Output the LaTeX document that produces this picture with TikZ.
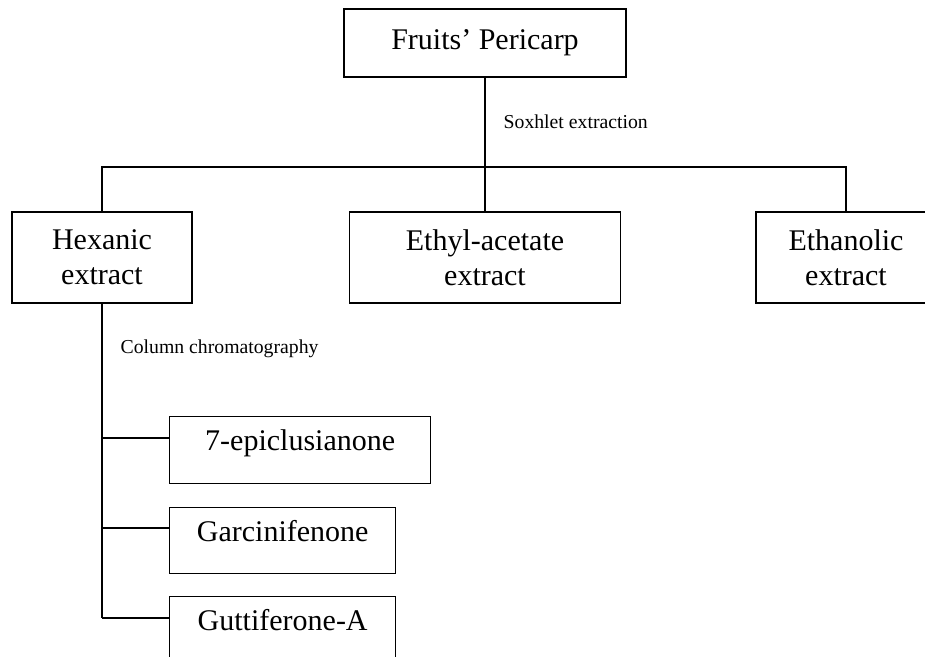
\documentclass[tikz,border=0pt]{standalone}
\usepackage{fontspec}
\setmainfont{Liberation Serif}
\usepackage{tikz}
\usetikzlibrary{calc}

\begin{document}
\begin{tikzpicture}[x=0.75pt,y=-0.75pt,line width=1pt,
        box/.style={rectangle,draw=black,line width=1pt,align=center,inner sep=2pt,
          font=\fontsize{22.5}{26}\selectfont},
        sub/.style={box,anchor=north west,text height=0.7em,text depth=0.6em},
        step label/.style={inner sep=0pt,anchor=base west,font=\fontsize{14.8}{17}\selectfont}]
        \useasboundingbox (0,0) rectangle (925,657);
        \clip (0,0) rectangle (925,657);
        \node[box,minimum width=211.5pt,minimum height=51pt]  (fp) at (485,43) {Fruits' Pericarp};
        \node[box,minimum width=135pt,minimum height=68.25pt]  (hx) at (102,257.5) {Hexanic\\extract};
        \node[box,minimum width=203.25pt,minimum height=68.25pt]  (ea) at (485,257.5) {Ethyl-acetate\\extract};
        \node[box,minimum width=135pt,minimum height=68.25pt]  (et) at (846,257.5) {Ethanolic\\extract};
        \node[sub,minimum width=195.75pt,minimum height=50.25pt]  (s1) at (169,416) {7-epiclusianone};
        \node[sub,minimum width=169.5pt,minimum height=49.5pt]  (s2) at (169,507) {Garcinifenone};
        \node[sub,minimum width=169.5pt,minimum height=50.25pt]  (s3) at (169,596) {Guttiferone-A};
        \node[step label] (sx) at (503,128) {Soxhlet extraction};
        \node[step label] (cc) at (120,353) {Column chromatography};
        \coordinate (split) at (fp.south |- 0,167);
        \coordinate (b1) at (hx.south |- 0,438);
        \coordinate (b2) at (hx.south |- 0,528);
        \coordinate (b3) at (hx.south |- 0,618);
        \draw (fp.south) -- (split);
        \draw (hx.north) |- (split) -| (et.north);
        \draw (split) -- (ea.north);
        \draw (hx.south) -- (b3);
        \draw (b1) -- (b1 -| s1.west);
        \draw (b2) -- (b2 -| s2.west);
        \draw (b3) -- (b3 -| s3.west);
      \end{tikzpicture}
\end{document}
